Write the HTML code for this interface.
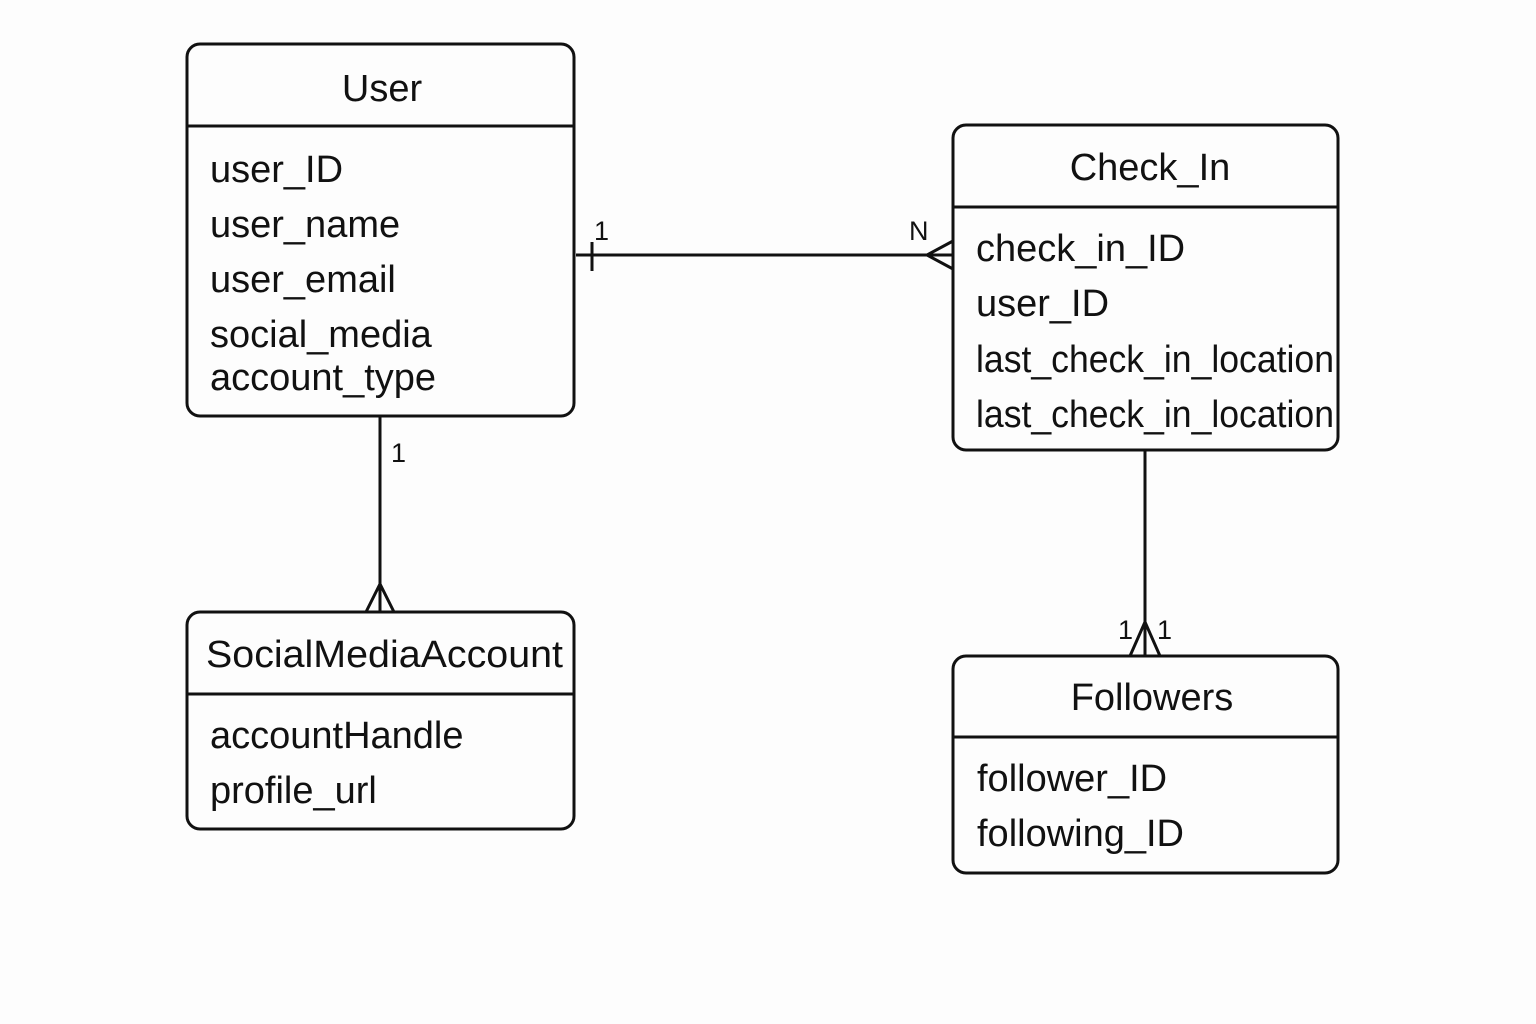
<!DOCTYPE html>
<html><head><meta charset="utf-8"><style>
html,body{margin:0;padding:0;background:#fdfdfd;}
svg{display:block;}
text{font-family:"Liberation Sans",Arial,sans-serif;fill:#111;}
</style></head><body>
<svg width="1536" height="1024" viewBox="0 0 1536 1024" xmlns="http://www.w3.org/2000/svg">
<rect width="1536" height="1024" fill="#fdfdfd"/>
<g fill="none" stroke="#111" stroke-width="3">
  <rect x="187" y="44" width="387" height="372" rx="13"/>
  <line x1="187" y1="126" x2="574" y2="126"/>
  <rect x="953" y="125" width="385" height="325" rx="13"/>
  <line x1="953" y1="207" x2="1338" y2="207"/>
  <rect x="187" y="612" width="387" height="217" rx="13"/>
  <line x1="187" y1="694" x2="574" y2="694"/>
  <rect x="953" y="656" width="385" height="217" rx="13"/>
  <line x1="953" y1="737" x2="1338" y2="737"/>
  <line x1="576" y1="255" x2="953" y2="255"/>
  <line x1="592" y1="242" x2="592" y2="271"/>
  <polyline points="953,241 927,255 953,269"/>
  <line x1="380" y1="416" x2="380" y2="612"/>
  <polyline points="366,612 380,584 394,612"/>
  <line x1="1145" y1="450" x2="1145" y2="656"/>
  <polyline points="1130,656 1145,622 1160,656"/>
</g>
<g font-size="38">
  <text x="382" y="101" text-anchor="middle">User</text>
  <text x="210" y="182">user_ID</text>
  <text x="210" y="237">user_name</text>
  <text x="210" y="292">user_email</text>
  <text x="210" y="347">social_media</text>
  <text x="210" y="390">account_type</text>

  <text x="1150" y="180" text-anchor="middle">Check_In</text>
  <text x="976" y="261">check_in_ID</text>
  <text x="976" y="316">user_ID</text>
  <text x="976" y="372" textLength="358" lengthAdjust="spacingAndGlyphs">last_check_in_location</text>
  <text x="976" y="427" textLength="358" lengthAdjust="spacingAndGlyphs">last_check_in_location</text>

  <text x="206" y="667" textLength="357" lengthAdjust="spacingAndGlyphs">SocialMediaAccount</text>
  <text x="210" y="748">accountHandle</text>
  <text x="210" y="803">profile_url</text>

  <text x="1152" y="710" text-anchor="middle">Followers</text>
  <text x="977" y="791">follower_ID</text>
  <text x="977" y="846">following_ID</text>
</g>
<g font-size="27">
  <text x="594" y="240">1</text>
  <text x="909" y="240">N</text>
  <text x="391" y="462">1</text>
  <text x="1118" y="639">1</text>
  <text x="1157" y="639">1</text>
</g>
</svg>
</body></html>
